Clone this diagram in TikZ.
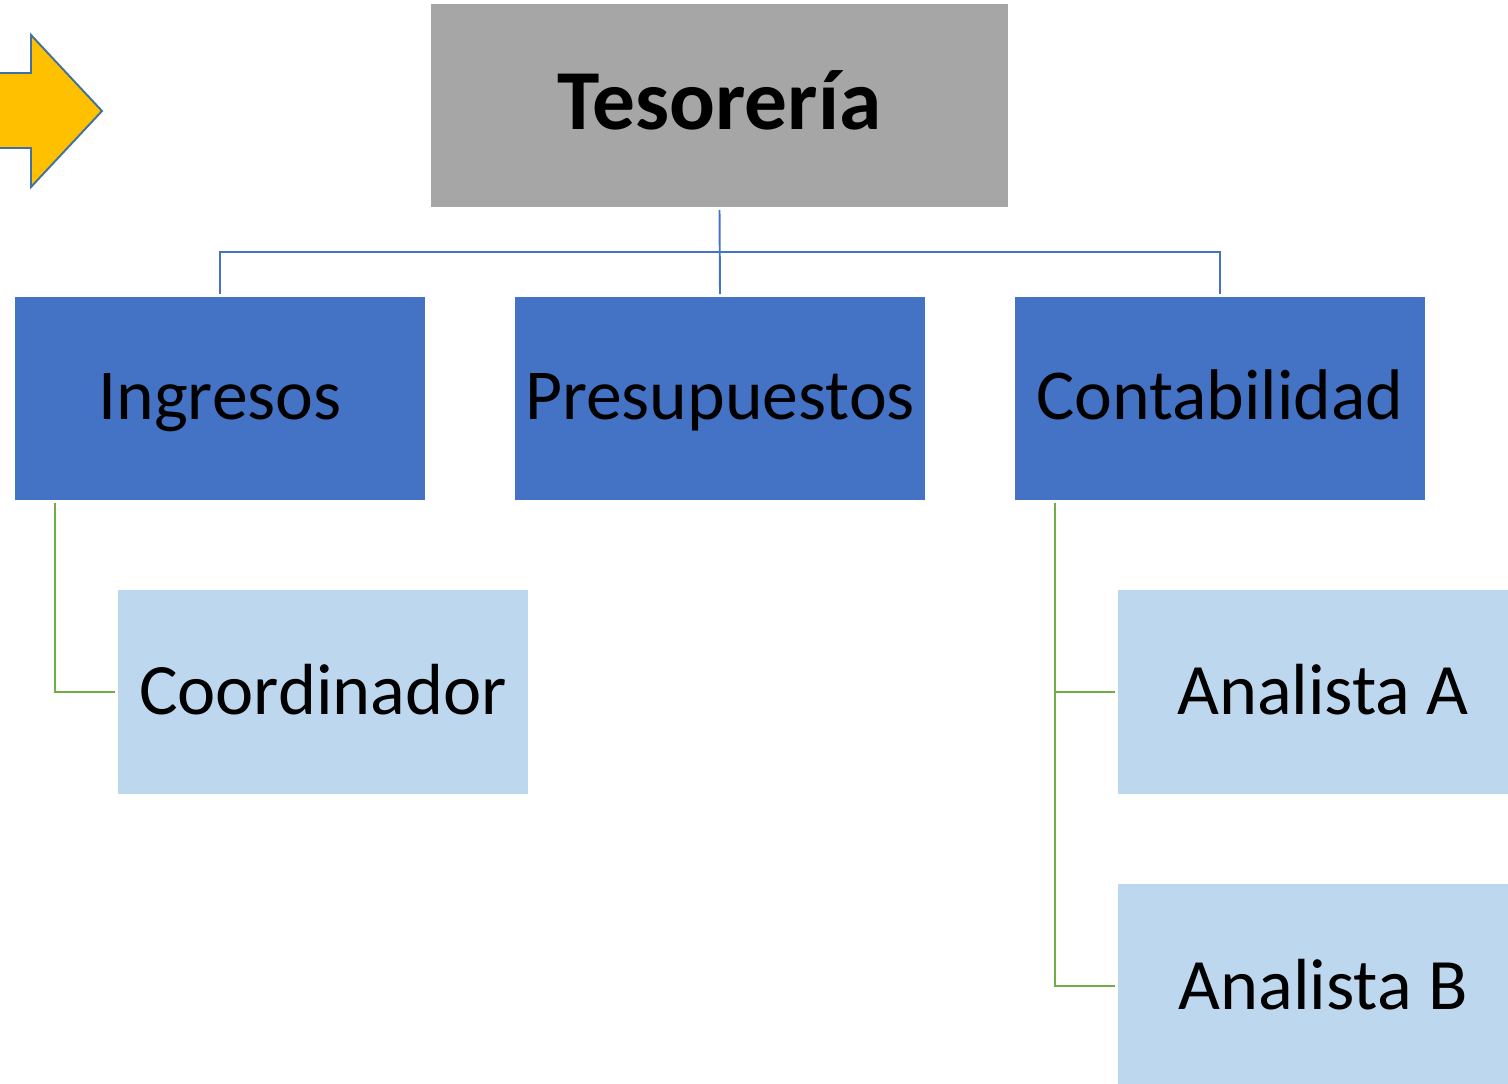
\documentclass[tikz,border=0pt]{standalone}
\usepackage{fontspec}
\setmainfont{Carlito}
\usetikzlibrary{positioning}
\definecolor{gris}{HTML}{A6A6A6}
\definecolor{azul}{HTML}{4472C4}
\definecolor{celeste}{HTML}{BDD7EE}
\definecolor{verde}{HTML}{70AD47}
\definecolor{oro}{HTML}{FFC000}
\definecolor{borde}{HTML}{41719C}
\begin{document}
\begin{tikzpicture}[x=0.02cm, y=-0.02cm, outer sep=0.06cm,
  jefe/.style={fill=gris, minimum width=11.54cm, minimum height=4.06cm, text height=1.28cm, text depth=0.3cm,
    font=\fontsize{48.6}{50}\selectfont\bfseries},
  area/.style={fill=azul, minimum width=8.2cm, minimum height=4.06cm, text height=1.16cm, text depth=0.3cm,
    font=\fontsize{40.8}{44}\selectfont},
  puesto/.style={fill=celeste, minimum width=8.2cm, minimum height=4.08cm, text height=1.22cm, text depth=0.3cm,
    font=\fontsize{41.2}{44}\selectfont},
  linea/.style={draw=azul, line width=1.1pt},
  rama/.style={draw=verde, line width=1.1pt}]
   %Rahmen
   \path[use as bounding box, clip] (0,0) rectangle (1508,1084);

%Pfeil
\draw[fill=oro, draw=borde, line width=1.1pt] (-5,73) -- (31,73) -- (31,35) -- (102,111)
  -- (31,187) -- (31,148) -- (-5,148) -- cycle;

\node[jefe] (tes) at (719.5,105.5) {Tesorería};

\node[area] (ing) at (220,398.5) {Ingresos};
\node[area] (pre) at (720,398.5) {Presupuestos};
\node[area] (con) at (1220,398.5) {Contabilidad};

\node[puesto] (coo) at (323,692) {Coordinador};
\node[puesto] (ana) at (1323,692) {Analista A};
\node[puesto] (anb) at (1323,986) {Analista B};

\coordinate (bus) at (720,252);
%Linien
\draw[linea] (tes.south) -- (pre.north);
\draw[linea] (ing.north) |- (bus) -| (con.north);
\draw[rama] ([xshift=0.86cm]ing.south west) |- (coo.west);
\draw[rama] ([xshift=0.86cm]con.south west) |- (ana.west);
\draw[rama] ([xshift=0.86cm]con.south west) |- (anb.west);
\end{tikzpicture}
\end{document}
